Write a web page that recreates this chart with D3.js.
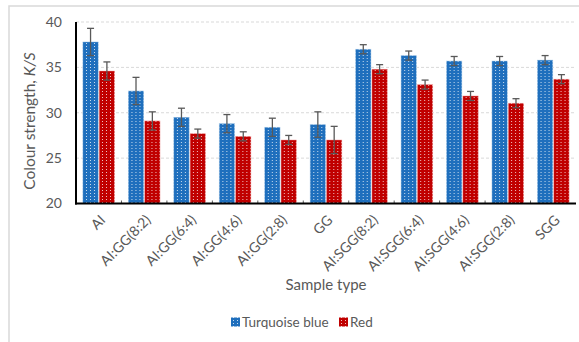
<!DOCTYPE html>
<html>
<head>
<meta charset="utf-8">
<script src="https://cdn.jsdelivr.net/npm/d3@7"></script>
<style>
  html, body { margin: 0; padding: 0; background: #fff; }
  svg { display: block; font-family: Lato, "Open Sans", sans-serif; }
</style>
</head>
<body>
<svg id="chart" width="579" height="342"></svg>
<script>
// Sample types along the x axis
const categories = ["AI", "AI:GG(8:2)", "AI:GG(6:4)", "AI:GG(4:6)", "AI:GG(2:8)", "GG",
  "AI:SGG(8:2)", "AI:SGG(6:4)", "AI:SGG(4:6)", "AI:SGG(2:8)", "SGG"];
const seriesNames = ["Turquoise blue", "Red"];
// Colour strength (K/S) means and error-bar half widths
const blueValues = [37.8, 32.4, 29.5, 28.8, 28.4, 28.7, 37.0, 36.3, 35.7, 35.7, 35.8];
const blueErrors = [1.5, 1.5, 1.0, 1.0, 1.0, 1.4, 0.5, 0.5, 0.5, 0.5, 0.5];
const redValues = [34.6, 29.1, 27.7, 27.4, 27.0, 27.0, 34.8, 33.1, 31.85, 31.05, 33.7];
const redErrors = [1.0, 1.0, 0.5, 0.5, 0.5, 1.5, 0.5, 0.5, 0.5, 0.5, 0.5];
const yTicks = [20, 25, 30, 35, 40];

const colors = ["#1f6fbd", "#c00000"];
const svg = d3.select("#chart");

// Chart frame
svg.append("rect").attr("x", 9).attr("y", 6).attr("width", 620).attr("height", 400)
  .attr("fill", "none").attr("stroke", "#d9d9d9").attr("stroke-width", 1.5);

// Dotted pattern fills for the bars
const defs = svg.append("defs");
colors.forEach((c, i) => {
  const p = defs.append("pattern").attr("id", "pat" + i).attr("patternUnits", "userSpaceOnUse")
    .attr("width", 4).attr("height", 3).attr("x", 0).attr("y", 0);
  p.append("rect").attr("width", 4).attr("height", 3).attr("fill", c);
  p.append("rect").attr("x", 2).attr("y", 1).attr("width", 1).attr("height", 1)
    .attr("fill", "#fff").attr("opacity", 0.75);
});

const plotLeft = 76, plotRight = 576, plotTop = 22, plotBottom = 203.5;
const x = d3.scaleBand().domain(categories).range([plotLeft, plotRight]).paddingInner(0).paddingOuter(0);
const xs = d3.scaleBand().domain(seriesNames).range([0, x.bandwidth()]).paddingInner(0.06).paddingOuter(0.42);
const y = d3.scaleLinear().domain([20, 40]).range([plotBottom, plotTop]);

// Gridlines
svg.append("g").selectAll("line").data(yTicks.filter(t => t > 20)).join("line")
  .attr("x1", plotLeft).attr("x2", plotRight).attr("y1", d => y(d)).attr("y2", d => y(d))
  .attr("stroke", "#d9d9d9").attr("stroke-width", 1).attr("stroke-dasharray", "3,2");

// Bars
const data = categories.map((c, i) => ({
  cat: c,
  items: [
    { s: seriesNames[0], v: blueValues[i], e: blueErrors[i], k: 0 },
    { s: seriesNames[1], v: redValues[i], e: redErrors[i], k: 1 }
  ]
}));

const groups = svg.append("g").selectAll("g").data(data).join("g")
  .attr("transform", d => `translate(${x(d.cat)},0)`);

groups.selectAll("rect").data(d => d.items).join("rect")
  .attr("x", d => xs(d.s)).attr("width", xs.bandwidth())
  .attr("y", d => y(d.v)).attr("height", d => y(20) - y(d.v))
  .attr("fill", d => `url(#pat${d.k})`)
  .attr("stroke", d => d.k === 0 ? "#9dc3e6" : "#f4a6a6").attr("stroke-width", 0.6).attr("stroke-opacity", 0.7);

// Error bars
const eb = groups.selectAll("g.err").data(d => d.items).join("g").attr("class", "err")
  .attr("transform", d => `translate(${xs(d.s) + xs.bandwidth() / 2},0)`)
  .attr("stroke", "#595959").attr("stroke-width", 1.3);
eb.append("line").attr("x1", 0).attr("x2", 0).attr("y1", d => y(d.v + d.e)).attr("y2", d => y(d.v - d.e));
eb.append("line").attr("x1", -3.5).attr("x2", 3.5).attr("y1", d => y(d.v + d.e)).attr("y2", d => y(d.v + d.e));
eb.append("line").attr("x1", -3.5).attr("x2", 3.5).attr("y1", d => y(d.v - d.e)).attr("y2", d => y(d.v - d.e));

// Category boundary ticks (inside)
svg.append("g").selectAll("line").data(categories.slice(1)).join("line")
  .attr("x1", d => x(d)).attr("x2", d => x(d)).attr("y1", plotBottom).attr("y2", plotBottom - 3)
  .attr("stroke", "#595959").attr("stroke-width", 1);

// Axis lines
svg.append("line").attr("x1", plotLeft).attr("x2", plotLeft).attr("y1", plotTop).attr("y2", plotBottom + 1)
  .attr("stroke", "#000").attr("stroke-width", 2);
svg.append("line").attr("x1", plotLeft - 1).attr("x2", plotRight).attr("y1", plotBottom).attr("y2", plotBottom)
  .attr("stroke", "#000").attr("stroke-width", 2);

// Y tick labels
svg.append("g").selectAll("text").data(yTicks).join("text")
  .attr("x", 62).attr("y", d => y(d)).attr("dy", "0.35em").attr("text-anchor", "end")
  .attr("font-size", 14).attr("fill", "#595959").text(d => d);

// X tick labels, rotated
svg.append("g").selectAll("text").data(categories).join("text")
  .attr("transform", d => `translate(${x(d) + x.bandwidth() / 2 + 4},${plotBottom + 14}) rotate(-45)`)
  .attr("text-anchor", "end").attr("dy", "0.35em")
  .attr("font-size", 14).attr("fill", "#595959").text(d => d);

// Axis titles
const yt = svg.append("text").attr("transform", `translate(30,121) rotate(-90)`)
  .attr("text-anchor", "middle").attr("dy", "0.35em").attr("font-size", 15.5).attr("fill", "#595959");
yt.append("tspan").text("Colour strength, ");
yt.append("tspan").attr("font-style", "italic").text("K/S");

svg.append("text").attr("x", 326).attr("y", 285).attr("dy", "0.35em").attr("text-anchor", "middle")
  .attr("font-size", 15).attr("fill", "#595959").text("Sample type");

// Legend
const legend = svg.append("g");
const legendX = [231, 339];
seriesNames.forEach((s, i) => {
  const g = legend.append("g").attr("transform", `translate(${legendX[i]},322)`);
  g.append("rect").attr("x", 0).attr("y", -4.5).attr("width", 9).attr("height", 9).attr("fill", `url(#pat${i})`);
  g.append("text").attr("x", 11).attr("y", 0).attr("dy", "0.35em").attr("font-size", 13.5)
    .attr("fill", "#595959").text(s);
});
</script>
</body>
</html>
